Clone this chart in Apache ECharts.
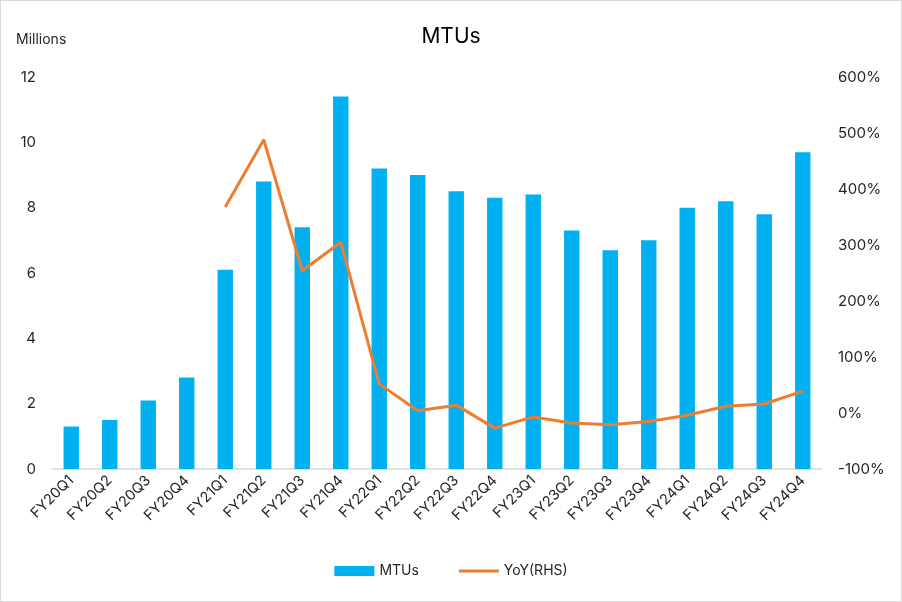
<!DOCTYPE html>
<html>
<head>
<meta charset="utf-8">
<script src="https://cdn.jsdelivr.net/npm/echarts@6/dist/echarts.min.js"></script>
<style>
  html, body { margin: 0; padding: 0; background: #fff; }
  #chart { width: 900px; height: 600px; border: 1px solid #d9d9d9; }
</style>
</head>
<body>
<div id="chart"></div>
<script>
// quarters on the x axis
const quarters = [
  'FY20Q1', 'FY20Q2', 'FY20Q3', 'FY20Q4',
  'FY21Q1', 'FY21Q2', 'FY21Q3', 'FY21Q4',
  'FY22Q1', 'FY22Q2', 'FY22Q3', 'FY22Q4',
  'FY23Q1', 'FY23Q2', 'FY23Q3', 'FY23Q4',
  'FY24Q1', 'FY24Q2', 'FY24Q3', 'FY24Q4'
]
// MTUs, millions
const mtus = [1.3, 1.5, 2.1, 2.8, 6.1, 8.8, 7.4, 11.4, 9.2, 9.0, 8.5, 8.3, 8.4, 7.3, 6.7, 7.0, 8.0, 8.2, 7.8, 9.7]
// YoY growth, % (no value for the first year)
const yoy = [null, null, null, null, 368, 488, 254, 305, 52, 4, 14, -27, -7, -18, -21, -15, -4, 12, 16, 39]

const font = 'Inter, "Noto Sans", sans-serif'
const textColor = '#262626'

const chart = echarts.init(document.getElementById('chart'))

chart.setOption({
  animation: false,
  textStyle: { fontFamily: font },
  title: {
    text: 'MTUs',
    left: 'center',
    top: 20,
    textStyle: { fontSize: 21, fontWeight: 'normal', color: '#000', fontFamily: font }
  },
  grid: { left: 51, right: 79, top: 76, bottom: 132 },
  legend: {
    bottom: 18,
    left: 'center',
    itemWidth: 40,
    itemHeight: 10,
    itemGap: 40,
    textStyle: { fontSize: 14, color: textColor },
    data: [
      { name: 'MTUs', icon: 'rect' },
      { name: 'YoY(RHS)', icon: 'path://M0,0H40V3H0Z' }
    ]
  },
  xAxis: {
    type: 'category',
    data: quarters,
    axisLine: { lineStyle: { color: '#d9d9d9', width: 1.5 } },
    axisTick: { show: false },
    axisLabel: { rotate: 45, fontSize: 14.5, color: textColor, margin: 9, interval: 0 }
  },
  yAxis: [
    {
      type: 'value',
      name: 'Millions',
      nameLocation: 'end',
      nameGap: 30,
      nameTextStyle: { fontSize: 14, color: textColor, align: 'left', padding: [0, 0, 0, -36] },
      min: 0,
      max: 12,
      interval: 2,
      axisLine: { show: false },
      axisTick: { show: false },
      splitLine: { show: false },
      axisLabel: { fontSize: 15, color: textColor, margin: 16 }
    },
    {
      type: 'value',
      min: -100,
      max: 600,
      interval: 100,
      axisLine: { show: false },
      axisTick: { show: false },
      splitLine: { show: false },
      axisLabel: { fontSize: 15, color: textColor, margin: 16, formatter: '{value}%' }
    }
  ],
  series: [
    {
      name: 'MTUs',
      type: 'bar',
      data: mtus,
      barWidth: '40%',
      itemStyle: { color: '#00b0f0' }
    },
    {
      name: 'YoY(RHS)',
      type: 'line',
      yAxisIndex: 1,
      data: yoy,
      symbol: 'none',
      lineStyle: { color: '#ed7d31', width: 3 },
      itemStyle: { color: '#ed7d31' }
    }
  ]
})
</script>
</body>
</html>
